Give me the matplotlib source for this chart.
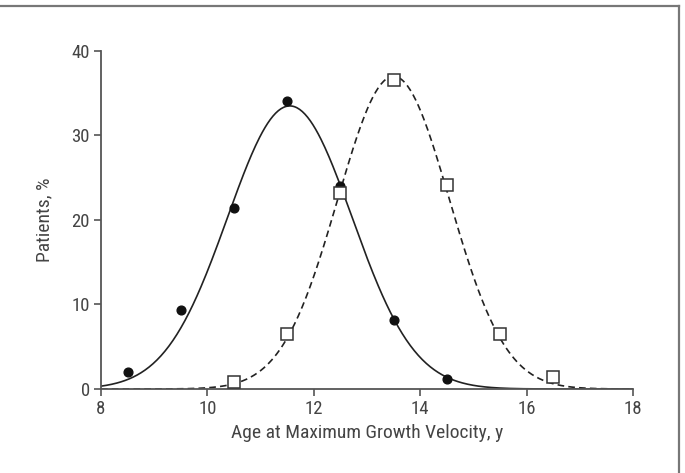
import numpy as np
import matplotlib
matplotlib.use("Agg")
import matplotlib.pyplot as plt
from matplotlib.lines import Line2D

plt.rcParams['font.family'] = ['Roboto Condensed', 'DejaVu Sans']

# Data
age_circles = [8.5, 9.5, 10.5, 11.5, 12.5, 13.5, 14.5]
pct_circles = [2.0, 9.4, 21.4, 34.1, 24.0, 8.2, 1.2]
age_squares = [10.5, 11.5, 12.5, 13.5, 14.5, 15.5, 16.5]
pct_squares = [0.8, 6.5, 23.2, 36.6, 24.2, 6.5, 1.4]

# Fitted normal curves (peak, mean, sd)
fit_circles = (33.5, 11.55, 1.17)
fit_squares = (37.0, 13.5, 1.05)

x_ticks = [8, 10, 12, 14, 16, 18]
y_ticks = [0, 10, 20, 30, 40]

text_col = '#444444'
axis_col = '#555555'

fig = plt.figure(figsize=(6.85, 4.73), dpi=100)
ax = fig.add_axes([0.1474, 0.1776, 0.7766, 0.7146])

xs = np.linspace(8, 18, 400)
def gauss(p, x):
    a, m, s = p
    return a * np.exp(-(x - m) ** 2 / (2 * s ** 2))

ax.plot(xs, gauss(fit_circles, xs), color='#222222', lw=1.2, ls='-', zorder=2)
ax.plot(xs, gauss(fit_squares, xs), color='#222222', lw=1.2, ls=(0, (4, 2.5)), zorder=2)
ax.plot(age_circles, pct_circles, 'o', ms=6.3, color='#111111', zorder=3, clip_on=False)
ax.plot(age_squares, pct_squares, 's', ms=8, mfc='white', mec='#333333', mew=1.1, zorder=4, clip_on=False)

ax.set_xlim(8, 18)
ax.set_ylim(0, 40)
ax.set_xticks(x_ticks)
ax.set_yticks(y_ticks)
for s in ['top', 'right']:
    ax.spines[s].set_visible(False)
for s in ['left', 'bottom']:
    ax.spines[s].set_color(axis_col)
    ax.spines[s].set_linewidth(1.3)
ax.tick_params(axis='both', colors=axis_col, labelcolor=text_col, labelsize=13.5,
               length=5, width=1.2, direction='out', pad=3)
ax.set_xlabel('Age at Maximum Growth Velocity, y', fontsize=14, color=text_col)
ax.set_ylabel('Patients, %', fontsize=14, color=text_col)
ax.xaxis.set_label_coords(0.5, -0.105)
ax.yaxis.set_label_coords(-0.09, 0.5)

# frame lines (top and right) of the figure box
fig.add_artist(Line2D([0, 0.991], [0.987, 0.987], transform=fig.transFigure, color='#777777', lw=1.6))
fig.add_artist(Line2D([0.991, 0.991], [0.0, 0.987], transform=fig.transFigure, color='#777777', lw=1.6))

fig.savefig('out.png', dpi=100)
